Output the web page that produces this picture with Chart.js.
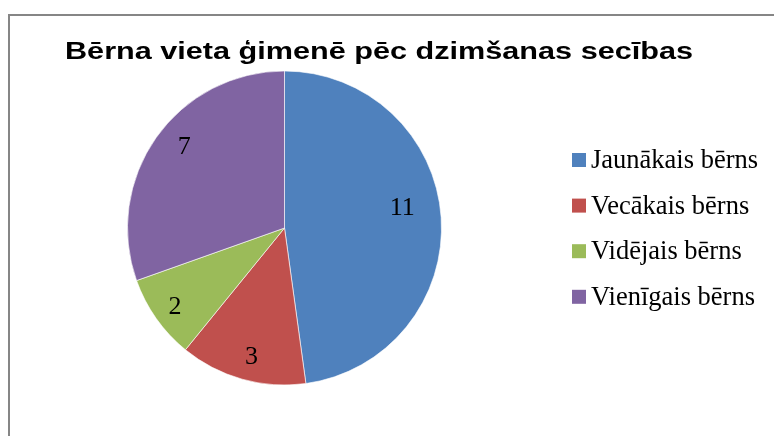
<!DOCTYPE html>
<html>
<head>
<meta charset="utf-8">
<script src="https://cdn.jsdelivr.net/npm/chart.js@4.4.1/dist/chart.umd.min.js"></script>
<style>
  body { margin: 0; background: #fff; }
  #wrap { position: relative; width: 774px; height: 436px; overflow: hidden; }
  #frame { position: absolute; left: 8px; top: 14px; width: 900px; height: 600px; border: 2px solid #868686; box-sizing: border-box; pointer-events: none; }
  canvas { position: absolute; left: 0; top: 0; }
</style>
</head>
<body>
<div id="wrap">
  <canvas id="pie" width="774" height="436"></canvas>
  <div id="frame"></div>
</div>
<script>
const chartTitle = 'Bērna vieta ģimenē pēc dzimšanas secības';
const categories = ['Jaunākais bērns', 'Vecākais bērns', 'Vidējais bērns', 'Vienīgais bērns'];
const counts = [11, 3, 2, 7];
const colors = ['#4F81BD', '#C0504D', '#9BBB59', '#8064A2'];

const serif = '"Liberation Serif", "Times New Roman", serif';

// Excel "best fit" label placement, roughly: radius share and angle nudge per slice
const labelRadius = [0.76, 0.85, 0.86, 0.82];
const labelNudge = [-5.7, -1.3, -0.6, 3.7]; // degrees

// title, legend and value labels drawn by hand to keep the Excel look
const extras = {
  id: 'extras',
  afterDraw(chart) {
    const ctx = chart.ctx;
    ctx.save();

    // the title in the original is stretched sideways
    ctx.fillStyle = '#000';
    ctx.font = 'bold 23px "Liberation Sans", Arial, sans-serif';
    ctx.textAlign = 'center';
    ctx.textBaseline = 'alphabetic';
    const tw = ctx.measureText(chartTitle).width;
    ctx.save();
    ctx.translate(379, 59);
    ctx.scale(628 / tw, 1);
    ctx.fillText(chartTitle, 0, 0);
    ctx.restore();

    // values inside slices
    ctx.textBaseline = 'middle';
    ctx.font = '26px ' + serif;
    const arcs = chart.getDatasetMeta(0).data;
    arcs.forEach((arc, i) => {
      const mid = (arc.startAngle + arc.endAngle) / 2 + labelNudge[i] * Math.PI / 180;
      const r = arc.outerRadius * labelRadius[i];
      ctx.fillText(String(counts[i]), arc.x + Math.cos(mid) * r, arc.y + Math.sin(mid) * r);
    });

    // legend
    ctx.textAlign = 'left';
    ctx.font = '26.5px ' + serif;
    categories.forEach((name, i) => {
      const y = 160 + i * 45.6;
      ctx.fillStyle = colors[i];
      ctx.fillRect(572, y - 7, 14, 14);
      ctx.fillStyle = '#000';
      ctx.fillText(name, 591, y + 1);
    });

    ctx.restore();
  }
};

new Chart(document.getElementById('pie'), {
  type: 'pie',
  data: {
    labels: categories,
    datasets: [{
      data: counts,
      backgroundColor: colors,
      borderColor: 'rgba(255,255,255,0.6)',
      borderWidth: 1
    }]
  },
  options: {
    responsive: false,
    animation: false,
    layout: { padding: { left: 127, right: 332, top: 70, bottom: 50 } },
    plugins: {
      legend: { display: false },
      title: { display: false },
      tooltip: { enabled: false }
    }
  },
  plugins: [extras]
});
</script>
</body>
</html>
